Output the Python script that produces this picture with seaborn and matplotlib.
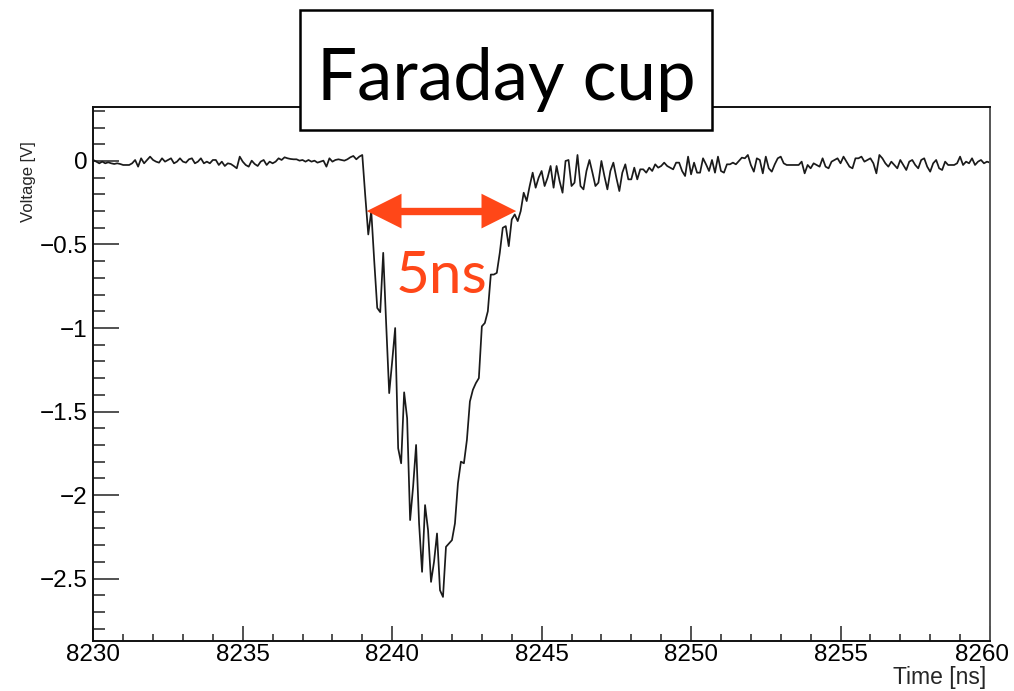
import numpy as np
import pandas as pd
import matplotlib
matplotlib.use("Agg")
import matplotlib.pyplot as plt
import seaborn as sns
from matplotlib import font_manager
from matplotlib.patches import Rectangle, FancyArrowPatch
from matplotlib.ticker import FixedLocator, MultipleLocator
from matplotlib.transforms import ScaledTranslation

# ---- waveform samples (digitizer step 0.1 ns) ----
SAMPLE_STEP_NS = 0.1

baseline_start_ns = 8230.0
baseline_v = [
    0.006, -0.004, -0.014, -0.004, -0.014, -0.008, -0.014, -0.018, -0.014, -0.018,
    -0.024, -0.024, -0.024, -0.014, 0.006, -0.034, 0.016, -0.014, 0.006, 0.026,
    0.006, -0.004, -0.010, 0.016, -0.004, 0.006, 0.016, -0.014, -0.004, 0.016,
    -0.004, -0.010, 0.010, 0.016, -0.014, -0.004, 0.016, -0.014, -0.004, -0.014,
    0.006, 0.006, -0.024, -0.004, -0.030, -0.014, -0.018, -0.030, -0.044, 0.026,
    -0.004, -0.024, -0.034, 0.002, -0.018, -0.030, -0.004, 0.006, -0.024, -0.004,
    -0.014, -0.004, 0.016, 0.006, 0.022, 0.016, 0.012, 0.010, 0.010, 0.002,
    0.006, -0.004, 0.006, -0.004, 0.002, -0.010, -0.004, 0.002, -0.034, 0.016,
    -0.004, 0.006, 0.010, 0.006, 0.002, 0.010, 0.022, 0.030, 0.010,
]

pulse_start_ns = 8238.9
pulse_v = [
    0.026, 0.036, -0.21, -0.44, -0.30, -0.60, -0.88, -0.905, -0.55, -0.98,
    -1.39, -1.20, -1.00, -1.72, -1.81, -1.385, -1.54, -2.15, -1.95, -1.70,
    -2.17, -2.46, -2.06, -2.21, -2.52, -2.40, -2.23, -2.57, -2.61, -2.31,
    -2.29, -2.27, -2.17, -1.93, -1.80, -1.81, -1.67, -1.44, -1.37, -1.33,
    -1.30, -0.99, -0.97, -0.90, -0.68, -0.68, -0.67, -0.55, -0.40, -0.39,
    -0.51, -0.35, -0.32, -0.36, -0.30, -0.19, -0.24, -0.15, -0.07, -0.16,
    -0.10, -0.06,
]

ringing_start_ns = 8245.1
ringing_v = [
    -0.15, -0.10, -0.03, -0.16, -0.03, -0.12, -0.19, 0.00, 0.006, -0.15,
    -0.13, 0.036, -0.15, -0.17, -0.06, 0.006, -0.07, -0.15, -0.13, 0.00,
    -0.09, -0.17, -0.06, -0.01, -0.10, -0.18, -0.07, -0.02, -0.11, -0.11,
    -0.04, -0.11, -0.05, -0.05, -0.07, -0.04, -0.06, -0.02, -0.04, -0.03,
    -0.01, -0.03, -0.04, -0.05, -0.01, -0.01, -0.06, -0.09, 0.026, -0.08,
    -0.01, -0.07, -0.07, 0.016, -0.02, -0.06, 0.006, -0.07, 0.026, -0.06,
    -0.07, -0.02, -0.02, -0.01, -0.02, 0.00, 0.02,
]

tail_start_ns = 8251.8
tail_v = [
    0.016, 0.036, -0.024, -0.064, 0.016, 0.006, -0.074, 0.026, -0.044, -0.064,
    -0.020, 0.016, 0.026, -0.014, -0.024, -0.024, -0.024, -0.024, -0.024, -0.004,
    -0.074, -0.024, -0.044, -0.014, -0.024, -0.034, 0.016, -0.034, -0.044, -0.004,
    0.006, 0.016, -0.014, 0.026, -0.004, -0.034, -0.044, 0.016, 0.016, 0.026,
    -0.004, 0.006, 0.016, -0.014, -0.074, 0.036, 0.016, -0.014, -0.034, -0.004,
    -0.024, -0.044, 0.006, -0.024, -0.054, -0.004, 0.006, -0.024, -0.044, 0.006,
    0.016, -0.034, -0.064, -0.014, 0.006, -0.044, -0.054, -0.004, -0.024, -0.024,
    -0.024, -0.014, 0.026, -0.024, -0.004, -0.014, 0.016, -0.024, -0.004, 0.006,
    -0.014, -0.004, -0.010,
]

# ---- axes ticks ----
xtick_values = [8230, 8235, 8240, 8245, 8250, 8255, 8260]
xtick_labels = ["8230", "8235", "8240", "8245", "8250", "8255", "8260"]
ytick_values = [0, -0.5, -1, -1.5, -2, -2.5]
ytick_labels = ["0", "\u22120.5", "\u22121", "\u22121.5", "\u22122", "\u22122.5"]

# ---- annotation ----
title_text = "Faraday cup"
width_left_ns = 8239.15
pulse_width_ns = 5
width_level_v = -0.30

# ---- build the trace ----
segments = [
    (baseline_start_ns, baseline_v),
    (pulse_start_ns, pulse_v),
    (ringing_start_ns, ringing_v),
    (tail_start_ns, tail_v),
]
times, volts = [], []
for start, vals in segments:
    times.append(start + SAMPLE_STEP_NS * np.arange(len(vals)))
    volts.append(np.asarray(vals))
df = pd.DataFrame({"time_ns": np.concatenate(times),
                   "voltage_V": np.concatenate(volts)})

sns.set_theme(style="white")
plt.rcParams["font.family"] = ["Liberation Sans", "DejaVu Sans"]
plt.rcParams["axes.unicode_minus"] = True

RED = "#FF4718"

fig = plt.figure(figsize=(10.14, 6.91), dpi=100)
fig.patch.set_facecolor("white")
ax = fig.add_axes([0.0920, 0.0728, 0.8843, 0.7728])

sns.lineplot(data=df, x="time_ns", y="voltage_V", ax=ax, color="#1a1a1a",
             linewidth=1.25, estimator=None, sort=False)

ax.set_xlim(8230, 8260)
ax.set_ylim(-2.872, 0.325)

ax.xaxis.set_major_locator(FixedLocator(xtick_values))
ax.set_xticklabels(xtick_labels)
ax.xaxis.set_minor_locator(MultipleLocator(1))
ax.yaxis.set_major_locator(FixedLocator(ytick_values))
ax.set_yticklabels(ytick_labels)
ax.yaxis.set_minor_locator(MultipleLocator(0.1))

ax.tick_params(axis="both", which="both", direction="in", top=False,
               right=False, bottom=True, left=True, color="#333333",
               width=1.2, labelsize=17.5, labelcolor="black")
ax.tick_params(axis="y", which="major", length=18.7, pad=4)
ax.tick_params(axis="y", which="minor", length=8.6)
ax.tick_params(axis="x", which="major", length=10.6, pad=2.5)
ax.tick_params(axis="x", which="minor", length=5.0)

# keep the right-most time label inside the canvas
last_label = ax.get_xticklabels()[-1]
last_label.set_transform(last_label.get_transform() +
                         ScaledTranslation(-6 / 72, 0, fig.dpi_scale_trans))

for side, spine in ax.spines.items():
    spine.set_visible(True)
    spine.set_color("#111111")
    spine.set_linewidth(1.4)
ax.spines["right"].set_color("#555555")

ax.set_xlabel("Time [ns]", fontsize=16.5, loc="right")
ax.xaxis.set_label_coords(0.996, -0.047)
ax.set_ylabel("Voltage [V]", fontsize=12, loc="top")
ax.yaxis.set_label_coords(-0.064, 0.935)

# width marker: filled heads plus a butt-capped shaft
width_right_ns = width_left_ns + pulse_width_ns
heads = FancyArrowPatch((width_left_ns, width_level_v),
                        (width_right_ns, width_level_v),
                        arrowstyle="<|-|>,head_length=25,head_width=12.5",
                        mutation_scale=1, shrinkA=0, shrinkB=0,
                        linewidth=0, color=RED, zorder=4)
ax.add_patch(heads)
ax.plot([width_left_ns + 0.35, width_right_ns - 0.35],
        [width_level_v, width_level_v], color=RED, linewidth=5.3,
        solid_capstyle="butt", zorder=4)
ax.text((width_left_ns + width_right_ns) / 2, -0.79,
        f"{pulse_width_ns:g}ns", color=RED, fontsize=42, family="Lato",
        ha="center", va="baseline", zorder=5)

# boxed title over the frame
fig.add_artist(Rectangle((0.2959, 0.8119), 0.4063, 0.1737,
                         transform=fig.transFigure, facecolor="white",
                         edgecolor="black", linewidth=1.8, zorder=5))
fig.text(0.4995, 0.8553, title_text, fontsize=51, family="Lato",
         ha="center", va="baseline", color="black", zorder=6)

fig.savefig("out.png", dpi=100, facecolor="white")
